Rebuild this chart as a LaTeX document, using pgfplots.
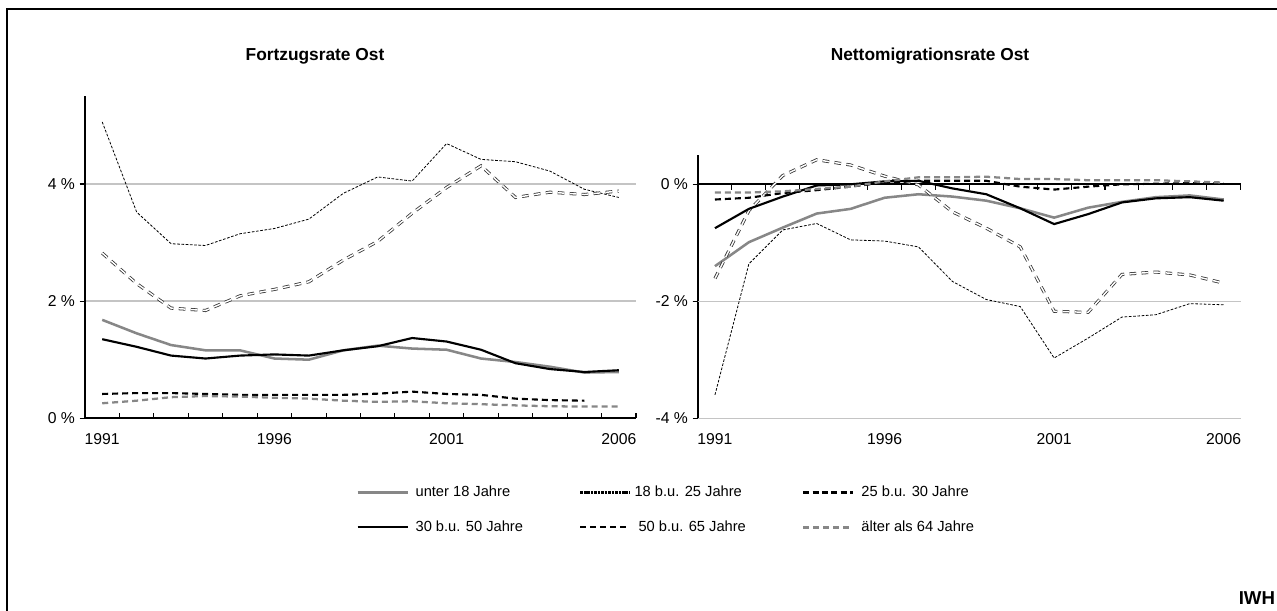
\documentclass[border=0pt]{standalone}
\usepackage{fontspec}
\setmainfont{Liberation Sans}
\usepackage{pgfplots}
\pgfplotsset{compat=1.18}
\usepackage{pgfplotstable}

\definecolor{lgray}{HTML}{878787}
\definecolor{gridgray}{HTML}{C4C4C4}

\pgfplotstableread{
year u18 a1825 a2530 a3050 a5065 a64
1991 1.68 5.06 2.82 1.35 0.415 0.256
1992 1.45 3.52 2.30 1.22 0.43 0.30
1993 1.25 2.98 1.88 1.07 0.43 0.36
1994 1.16 2.95 1.84 1.02 0.415 0.38
1995 1.16 3.15 2.09 1.07 0.40 0.37
1996 1.02 3.24 2.20 1.09 0.40 0.35
1997 1.00 3.40 2.33 1.07 0.40 0.335
1998 1.16 3.84 2.70 1.16 0.40 0.30
1999 1.24 4.12 3.02 1.23 0.42 0.28
2000 1.19 4.05 3.50 1.37 0.455 0.29
2001 1.17 4.69 3.94 1.31 0.415 0.256
2002 1.02 4.42 4.31 1.17 0.40 0.24
2003 0.96 4.38 3.77 0.94 0.335 0.22
2004 0.88 4.22 3.86 0.84 0.31 0.205
2005 0.78 3.91 3.82 0.79 0.30 0.20
2006 0.79 3.77 3.88 0.82 nan 0.20
}\fortzug

\pgfplotstableread{
year u18 a1825 a2530 a3050 a5065 a64
1991 -1.40 -3.60 -1.61 -0.75 -0.26 -0.14
1992 -0.99 -1.36 -0.45 -0.42 -0.23 -0.14
1993 -0.74 -0.78 0.15 -0.21 -0.15 -0.12
1994 -0.50 -0.67 0.42 -0.02 -0.10 -0.08
1995 -0.42 -0.95 0.33 0.00 -0.04 -0.04
1996 -0.23 -0.97 0.14 0.05 0.03 0.05
1997 -0.17 -1.07 -0.01 0.06 0.06 0.12
1998 -0.21 -1.66 -0.47 -0.07 0.06 0.12
1999 -0.28 -1.97 -0.75 -0.17 0.06 0.13
2000 -0.41 -2.09 -1.07 -0.41 -0.04 0.09
2001 -0.57 -2.97 -2.17 -0.68 -0.09 0.09
2002 -0.40 -2.63 -2.19 -0.51 -0.04 0.07
2003 -0.30 -2.27 -1.54 -0.31 0.00 0.07
2004 -0.22 -2.23 -1.50 -0.24 0.01 0.07
2005 -0.19 -2.04 -1.55 -0.22 0.02 0.05
2006 -0.26 -2.06 -1.69 -0.28 0.01 0.03
}\netto

\pgfplotsset{
  s18/.style={lgray, line width=1.9pt},
  s1825/.style={black, line width=0.6pt, dash pattern=on 2pt off 1.2pt},
  s2530/.style={black!80, line width=0.6pt, double=white, double distance=1.1pt, dash pattern=on 5pt off 4pt},
  s3050/.style={black, line width=1.6pt},
  s5065/.style={black, line width=1.6pt, dash pattern=on 4.5pt off 3pt},
  s64/.style={lgray, line width=1.7pt, dash pattern=on 4.5pt off 3pt},
  panel/.style={
    scale only axis,
    anchor=south west,
    xmin=1990.5, xmax=2006.5,
    xtick={1991,1996,2001,2006},
    xticklabels={1991,1996,2001,2006},
    major x tick style={draw=none},
    tick label style={font=\fontsize{11.8}{13}\selectfont},
    xticklabel style={yshift=-8pt},
    major tick length=4pt,
    minor tick length=4pt,
    ytick align=outside,
    major y tick style={black, line width=0.8pt},
    axis y line*=left,
    y axis line style={black, line width=1.6pt},
    clip=false,
  },
}

\begin{document}
\begin{tikzpicture}
\useasboundingbox (0pt,0pt) rectangle (957.75pt,457.5pt);

% frame
\draw[line width=1.6pt] (5.25pt,-5pt) -- (5.25pt,450.75pt) -- (965pt,450.75pt);

% ---------- left panel ----------
\begin{axis}[panel,
  at={(63.75pt,143.8pt)}, width=413.25pt, height=241.6pt,
  ymin=0, ymax=5.5,
  axis x line*=bottom,
  x axis line style={black, line width=1.6pt},
  minor xtick={1991.5,1992.5,...,2006.5},
  xtick align=inside,
  minor x tick style={black, line width=0.8pt},
  ytick={0,2,4}, yticklabels={0 \%,2 \%,4 \%},
  ymajorgrids, major grid style={gridgray, line width=1pt},
]
\addplot[s18] table[x=year,y=u18] {\fortzug};
\addplot[s1825] table[x=year,y=a1825] {\fortzug};
\addplot[s2530] table[x=year,y=a2530] {\fortzug};
\addplot[s3050] table[x=year,y=a3050] {\fortzug};
\addplot[s5065] table[x=year,y=a5065] {\fortzug};
\addplot[s64] table[x=year,y=a64] {\fortzug};
\end{axis}

% ---------- right panel: zero line ----------
\begin{axis}[
  scale only axis, anchor=south west,
  at={(523.5pt,143.8pt)}, width=407pt, height=197.4pt,
  xmin=1990.5, xmax=2006.5, ymin=-4, ymax=0.5,
  axis x line*=middle, axis y line=none,
  x axis line style={black, line width=1.6pt, -},
  xtick={1991}, xticklabels={}, major x tick style={draw=none},
  minor xtick={1991.5,1992.5,...,2006.5},
  minor x tick style={black, line width=0.8pt},
  minor tick length=4pt, xtick align=outside,
]
\end{axis}

% ---------- right panel ----------
\begin{axis}[panel,
  at={(523.5pt,143.8pt)}, width=407pt, height=197.4pt,
  ymin=-4, ymax=0.5,
  axis x line*=bottom,
  x axis line style={gridgray, line width=1pt},
  ytick={-4,-2,0}, yticklabels={-4 \%,-2 \%,0 \%},
  extra y ticks={-2}, extra y tick labels={},
  extra y tick style={ymajorgrids=true, major grid style={gridgray, line width=1pt}},
]
\addplot[s18] table[x=year,y=u18] {\netto};
\addplot[s1825] table[x=year,y=a1825] {\netto};
\addplot[s2530] table[x=year,y=a2530] {\netto};
\addplot[s3050] table[x=year,y=a3050] {\netto};
\addplot[s5065] table[x=year,y=a5065] {\netto};
\addplot[s64] table[x=year,y=a64] {\netto};
\end{axis}

% ---------- legend ----------
\begin{axis}[
  at={(0pt,0pt)}, anchor=south west, scale only axis,
  width=100pt, height=100pt, hide axis,
  xmin=0, xmax=1, ymin=0, ymax=1,
  legend columns=3,
  legend image code/.code={\draw[#1] (0pt,0pt) -- (37.5pt,0pt);},
  legend style={at={(2.67,0.75)}, anchor=west, draw=none, fill=none,
    inner sep=0pt, column sep=0pt, row sep=16pt,
    font=\fontsize{11}{12}\selectfont,
    nodes={inner sep=0pt, text height=8pt, text depth=2pt}},
]
\addlegendimage{lgray, line width=2pt}
\addlegendentry{\makebox[127.5pt][l]{\hspace{5pt}unter 18 Jahre}}
\addlegendimage{black, line width=2.2pt, dash pattern=on 2pt off 0.6pt}
\addlegendentry{\makebox[127.5pt][l]{\hspace{2pt}18 b.u. 25 Jahre}}
\addlegendimage{black, line width=2.2pt, dash pattern=on 4.5pt off 2.5pt}
\addlegendentry{\makebox[127.5pt][l]{\hspace{5pt}25 b.u. 30 Jahre}}
\addlegendimage{black, line width=1.7pt}
\addlegendentry{\makebox[127.5pt][l]{\hspace{5pt}30 b.u. 50 Jahre}}
\addlegendimage{black, line width=1.7pt, dash pattern=on 4.5pt off 3pt}
\addlegendentry{\makebox[127.5pt][l]{\hspace{5pt}50 b.u. 65 Jahre}}
\addlegendimage{lgray, line width=1.8pt, dash pattern=on 4.5pt off 3pt}
\addlegendentry{\makebox[127.5pt][l]{\hspace{5pt}älter als 64 Jahre}}
\end{axis}

% ---------- titles ----------
\node[font=\bfseries\fontsize{13}{15}\selectfont] at (236.25pt,415.5pt) {Fortzugsrate Ost};
\node[font=\bfseries\fontsize{13}{15}\selectfont] at (697.5pt,415.5pt) {Nettomigrationsrate Ost};
\node[font=\bfseries\fontsize{14}{16}\selectfont, anchor=base east, inner sep=0pt] at (956.5pt,4pt) {IWH};
\end{tikzpicture}
\end{document}
